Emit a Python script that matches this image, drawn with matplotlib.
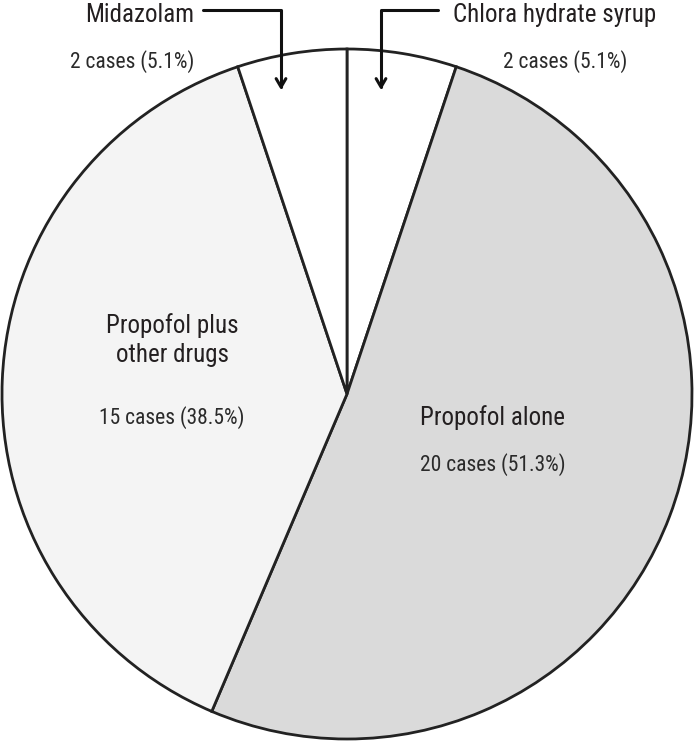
import matplotlib.pyplot as plt

# slices, clockwise from 12 o'clock
names = ['Chlora hydrate syrup', 'Propofol alone', 'Propofol plus\nother drugs', 'Midazolam']
cases = [2, 20, 15, 2]
shares = ['5.1%', '51.3%', '38.5%', '5.1%']
colors = ['#ffffff', '#dadada', '#f4f4f4', '#ffffff']

plt.rcParams['font.family'] = ['Roboto Condensed', 'DejaVu Sans Condensed',
                               'Liberation Sans Narrow', 'Liberation Sans']
plt.rcParams['font.stretch'] = 'condensed'

fig = plt.figure(figsize=(6.96, 7.44), dpi=100)
ax = fig.add_axes([0, 0, 1, 1])

ax.pie(cases, colors=colors, startangle=90, counterclock=False,
       center=(347, 350), radius=345, frame=True,
       wedgeprops=dict(edgecolor='#222222', linewidth=2))
ax.set_xlim(0, 696)
ax.set_ylim(0, 744)
ax.set_aspect('equal')
ax.axis('off')

txt = '#231f20'
lab = dict(fontsize=18, color=txt, ha='center', va='center')
cnt = dict(fontsize=15.5, color='#2a2a2a', ha='center', va='center')

# big slices: label inside
ax.text(172, 744 - 340, names[2], linespacing=1.3, **lab)
ax.text(172, 744 - 418, f'{cases[2]} cases ({shares[2]})', **cnt)
ax.text(493, 744 - 418, names[1], **lab)
ax.text(493, 744 - 465, f'{cases[1]} cases ({shares[1]})', **cnt)

# small slices: label outside with elbow arrow
arrow = dict(arrowstyle='->,head_length=0.6,head_width=0.35', color='#111111', lw=2.2,
             connectionstyle='angle,angleA=0,angleB=90,rad=0', shrinkA=0, shrinkB=0)
ax.annotate('', xy=(281, 744 - 90), xytext=(203, 744 - 10), arrowprops=arrow)
ax.annotate('', xy=(381, 744 - 90), xytext=(438, 744 - 10), arrowprops=arrow)
ax.text(140, 744 - 15, names[3], **lab)
ax.text(555, 744 - 15, names[0], **lab)
ax.text(132, 744 - 62, f'{cases[3]} cases ({shares[3]})', **cnt)
ax.text(565, 744 - 62, f'{cases[0]} cases ({shares[0]})', **cnt)

fig.savefig('out.png', dpi=100, facecolor='white')
